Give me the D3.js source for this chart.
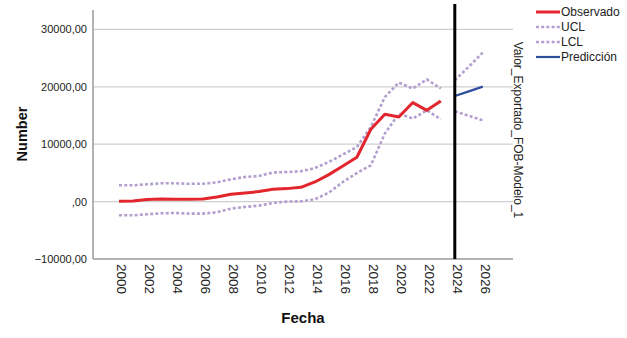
<!DOCTYPE html>
<html><head><meta charset="utf-8">
<script src="https://cdn.jsdelivr.net/npm/d3@7"></script>
<style>body{margin:0;background:#fff}svg{display:block;font-family:"Liberation Sans",Arial,sans-serif}</style>
</head><body><svg id="c" width="627" height="338"></svg>
<script>
const years = d3.range(2000, 2024);
const observado = [50,100,350,450,400,400,450,800,1270,1500,1740,2140,2260,2490,3420,4700,6200,7720,12600,15200,14740,17250,15900,17530];
const ucl = [2840,2840,3010,3190,3190,3100,3100,3360,3880,4290,4460,5050,5160,5280,5850,6900,8190,9510,13000,18220,20730,19690,21300,19690];
const lcl = [-2390,-2390,-2210,-2040,-1980,-2090,-2090,-1860,-1220,-930,-700,-240,0,50,400,1570,3420,4980,6320,11840,15330,14460,15900,14340];
const fYears = [2024,2025,2026];
const prediccion = [18400,19200,20030];
const fUcl = [21130,23500,25960];
const fLcl = [15730,14950,14160];
const yTicks = [-10000,0,10000,20000,30000];
const xTicks = d3.range(2000, 2027, 2);
const legendItems = ["Observado","UCL","LCL","Predicción"];

const svg = d3.select("#c");
const L = 93, R = 513, T = 4, B = 259;
const x = d3.scaleLinear().domain([1998.14, 2028.16]).range([L, R]);
const y = d3.scaleLinear().domain([-10000, 34420]).range([B, T]);
const fmt = v => v === 0 ? ",00" : d3.format("d")(v).replace(".", ",") + ",00";

// gridlines
svg.append("g").selectAll("line").data(yTicks.filter(v => v > -10000)).join("line")
  .attr("x1", L).attr("x2", R).attr("y1", d => y(d)).attr("y2", d => y(d))
  .attr("stroke", "#cfcfcf").attr("stroke-width", 1.3);

// y axis
const ya = svg.append("g").attr("transform", `translate(${L},0)`)
  .call(d3.axisLeft(y).tickValues(yTicks).tickFormat(fmt).tickSize(0).tickPadding(6));
ya.select(".domain").remove();
ya.selectAll("text").attr("font-size", 11).attr("fill", "#222").attr("font-family", "Liberation Sans, Arial");

// x axis
const xa = svg.append("g").attr("transform", `translate(0,${B})`)
  .call(d3.axisBottom(x).tickValues(xTicks).tickFormat(d3.format("d")).tickSize(0));
xa.select(".domain").remove();
xa.selectAll("text").attr("font-size", 13.5).attr("fill", "#222").attr("font-family", "Liberation Sans, Arial")
  .attr("transform", "rotate(90)").attr("text-anchor", "start").attr("dy", "0.35em").attr("x", 5).attr("y", -2);

// axis lines
svg.append("line").attr("x1", L).attr("x2", L).attr("y1", T + 6).attr("y2", B).attr("stroke", "#9a9a9a").attr("stroke-width", 1.5);
svg.append("line").attr("x1", L).attr("x2", R).attr("y1", B).attr("y2", B).attr("stroke", "#9a9a9a").attr("stroke-width", 1.5);

const line = d3.line().x(d => x(d[0])).y(d => y(d[1]));
const purple = "#b3a0cf", red = "#e3262e", blue = "#2f4f9c";
const dash = "3,2.2";

svg.append("path").datum(years.map((yr, i) => [yr, ucl[i]])).attr("d", line)
  .attr("fill", "none").attr("stroke", purple).attr("stroke-width", 2.6).attr("stroke-dasharray", dash);
svg.append("path").datum(years.map((yr, i) => [yr, lcl[i]])).attr("d", line)
  .attr("fill", "none").attr("stroke", purple).attr("stroke-width", 2.6).attr("stroke-dasharray", dash);
svg.append("path").datum(fYears.map((yr, i) => [yr, fUcl[i]])).attr("d", line)
  .attr("fill", "none").attr("stroke", purple).attr("stroke-width", 2.6).attr("stroke-dasharray", dash);
svg.append("path").datum(fYears.map((yr, i) => [yr, fLcl[i]])).attr("d", line)
  .attr("fill", "none").attr("stroke", purple).attr("stroke-width", 2.6).attr("stroke-dasharray", dash);
svg.append("path").datum(years.map((yr, i) => [yr, observado[i]])).attr("d", line)
  .attr("fill", "none").attr("stroke", red).attr("stroke-width", 3).attr("stroke-linejoin", "round");
svg.append("path").datum(fYears.map((yr, i) => [yr, prediccion[i]])).attr("d", line)
  .attr("fill", "none").attr("stroke", blue).attr("stroke-width", 2.2);

// forecast origin line
svg.append("line").attr("x1", x(2024)).attr("x2", x(2024)).attr("y1", T).attr("y2", B)
  .attr("stroke", "#000").attr("stroke-width", 3);

// titles
svg.append("text").attr("x", 303).attr("y", 323).attr("text-anchor", "middle")
  .attr("font-size", 15).attr("font-weight", "bold").attr("fill", "#111").text("Fecha");
svg.append("text").attr("transform", "translate(27,134) rotate(-90)").attr("text-anchor", "middle")
  .attr("font-size", 14.5).attr("font-weight", "bold").attr("fill", "#111").text("Number");
svg.append("text").attr("transform", "translate(514,130) rotate(90)").attr("text-anchor", "middle")
  .attr("font-size", 12).attr("fill", "#222").text("Valor_Exportado_FOB-Modelo_1");

// legend
const lg = svg.append("g");
const styles = [
  {c: red, w: 3, d: null}, {c: purple, w: 2.6, d: dash}, {c: purple, w: 2.6, d: dash}, {c: blue, w: 2.2, d: null}
];
legendItems.forEach((t, i) => {
  const yy = 12 + i * 15;
  lg.append("line").attr("x1", 536).attr("x2", 560).attr("y1", yy).attr("y2", yy)
    .attr("stroke", styles[i].c).attr("stroke-width", styles[i].w).attr("stroke-dasharray", styles[i].d);
  lg.append("text").attr("x", 561).attr("y", yy).attr("dy", "0.36em").attr("font-size", 12).attr("fill", "#222").text(t);
});
</script></body></html>
